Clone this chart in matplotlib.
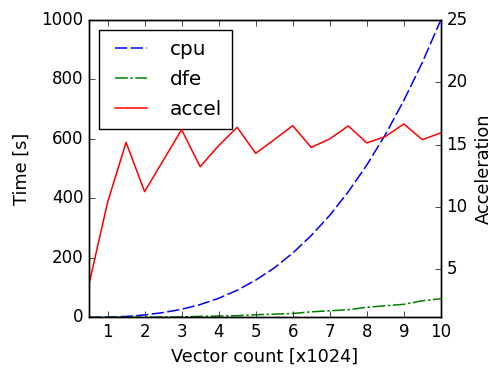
import numpy as np
import matplotlib
matplotlib.use('Agg')
import matplotlib.pyplot as plt

# vector count [x1024]
vec = [0.5, 1, 1.5, 2, 2.5, 3, 3.5, 4, 4.5, 5,
       5.5, 6, 6.5, 7, 7.5, 8, 8.5, 9, 9.5, 10]
# time [s]
cpu = [0.1, 1, 3, 8, 16, 27, 43, 64, 91, 125,
       166, 216, 275, 343, 422, 512, 614, 729, 857, 1000]
dfe = [0.03, 0.1, 0.2, 0.7, 1.2, 1.7, 3.2, 4.3, 5.6, 8.7,
       10.8, 13, 18.6, 22, 25.6, 33.8, 39, 43.8, 55.6, 62.7]
# acceleration
accel = [3.82, 10.37, 15.18, 11.23, 13.72, 16.2, 13.23, 14.92, 16.39, 14.3,
         15.4, 16.52, 14.78, 15.46, 16.5, 15.14, 15.64, 16.66, 15.4, 15.94]

plt.style.use('classic')
plt.rcParams['figure.facecolor'] = 'white'
plt.rcParams['savefig.facecolor'] = 'white'

fig = plt.figure(figsize=(4.92, 3.69), dpi=100)
ax = fig.add_axes([0.181, 0.140, 0.715, 0.806])

l1, = ax.plot(vec, cpu, color='b', linestyle=(0, (8.8, 2.5)), lw=1.1, label='cpu')
l2, = ax.plot(vec, dfe, color='g', linestyle=(0, (9.2, 1.8, 1.8, 1.8)), lw=1.1, label='dfe')
ax.set_xlim(0.5, 10)
ax.set_ylim(0, 1000)
ax.set_xticks(range(1, 11))
ax.set_yticks(range(0, 1001, 200))
ax.set_xlabel('Vector count [x1024]', fontsize=12.8)
ax.set_ylabel('Time [s]', fontsize=12.8, labelpad=8)

ax2 = ax.twinx()
l3, = ax2.plot(vec, accel, 'r-', lw=1.1, label='accel')
ax2.set_ylim(1.15, 25)
ax2.set_yticks([5, 10, 15, 20, 25])
ax2.set_ylabel('Acceleration', fontsize=12.8)
ax2.set_xlim(0.5, 10)

ax.legend([l1, l2, l3], ['cpu', 'dfe', 'accel'], loc='upper left',
          handlelength=2.2, handletextpad=0.85, borderpad=0.5, labelspacing=0.55)

fig.savefig('out.png', dpi=100)
